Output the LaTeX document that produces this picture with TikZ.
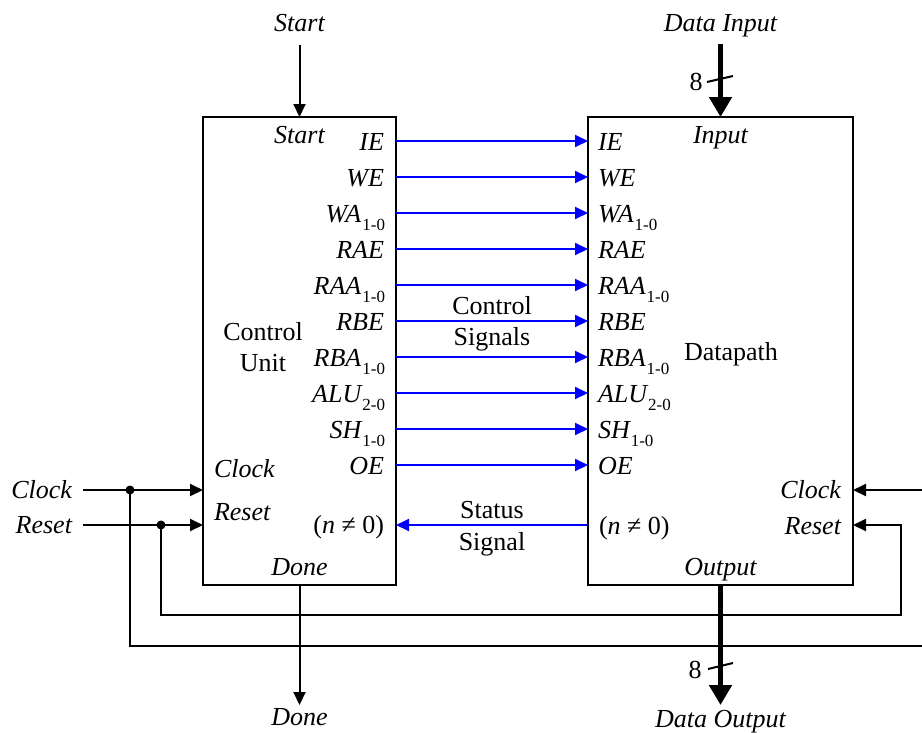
\documentclass[tikz,border=0pt]{standalone}
\usepackage{fontspec}
\setmainfont{Liberation Serif}
\usetikzlibrary{arrows.meta}
\newcommand{\sgl}[2]{\textit{#1}\kern1pt\raisebox{-8.5pt}{\fontsize{17}{17}\selectfont\upshape #2}}
\begin{document}
\begin{tikzpicture}[x=1pt,y=-1pt,
  every node/.style={font=\fontsize{26}{30}\selectfont, inner sep=0pt, outer sep=0pt},
  it/.style={font=\fontsize{26}{30}\selectfont\itshape},
  box/.style={draw, line width=2pt, anchor=north west, inner sep=0pt, outer sep=0pt},
  wire/.style={line width=2pt},
  arr/.style={wire, -{Triangle[length=13pt,width=12pt]}},
  sig/.style={line width=2pt, blue, -{Triangle[length=13pt,width=12pt]}},
  bus/.style={line width=5.5pt, -{Triangle[length=20pt,width=22pt]}},
  dot/.style={circle, fill, minimum size=9pt, inner sep=0pt},
]
\useasboundingbox (0,0) rectangle (922,732);
\clip (0,0) rectangle (922,732);

% boxes
\node[box, minimum width=193pt, minimum height=468pt] (cu) at (203,117) {};
\node[box, minimum width=265pt, minimum height=468pt] (dp) at (588,117) {};

% titles in boxes
\node[anchor=base] (cu1) at (263,340) {Control};
\node[anchor=base] (cu2) at (263,371) {Unit};
\node[anchor=base west] (dpt) at (684,360) {Datapath};

% top
\node[it, anchor=base] (tstart) at (299.5,31) {Start};
\coordinate (startin) at (299.5,45);
\draw[arr] (startin) -- (cu.north);
\node[it, anchor=base] (istart) at (299.5,143) {Start};

\node[it, anchor=base] (tdin) at (720.5,31) {Data Input};
\coordinate (dinin) at (720.5,44);
\draw[bus] (dinin) -- (dp.north);
\draw[wire] (707,82) -- (733,76);
\node[anchor=base] (n8a) at (696,90) {8};
\node[it, anchor=base] (iinput) at (720.5,143) {Input};

% control signals
\foreach \y/\l/\s [count=\i] in {141/IE/, 177/WE/, 213/WA/1-0, 249/RAE/, 285/RAA/1-0, 321/RBE/, 357/RBA/1-0, 393/ALU/2-0, 429/SH/1-0, 465/OE/}{
  \coordinate (cs\i) at (cu.east |- 0,\y);
  \coordinate (ds\i) at (dp.west |- 0,\y);
  \draw[sig] (cs\i) -- (ds\i);
  \node[it, anchor=base east] (cl\i) at (385,\y+9) {\sgl{\l}{\s}};
  \node[it, anchor=base west] (dl\i) at (598,\y+9) {\sgl{\l}{\s}};
}
\node[anchor=base] (cs1t) at (492,314) {Control};
\node[anchor=base] (cs2t) at (492,345) {Signals};

% status
\coordinate (ss) at (dp.west |- 0,525);
\coordinate (se) at (cu.east |- 0,525);
\draw[sig] (ss) -- (se);
\node[anchor=base] (st1) at (492,518) {Status};
\node[anchor=base] (st2) at (492,550) {Signal};
\node[anchor=base east] (cneq) at (384,533) {(\textit{n} ≠ 0)};
\node[anchor=base west] (dneq) at (599,534) {(\textit{n} ≠ 0)};

% clock / reset left
\node[it, anchor=base east] (lclk) at (72,498) {Clock};
\node[it, anchor=base east] (lrst) at (72,533) {Reset};
\coordinate (clkin) at (83,490);
\coordinate (rstin) at (83,525);
\draw[arr] (clkin) -- (clkin -| cu.west);
\draw[arr] (rstin) -- (rstin -| cu.west);
\node[dot] (dotc) at (130,490) {};
\node[dot] (dotr) at (161,525) {};
\node[it, anchor=base west] (cclk) at (214,477) {Clock};
\node[it, anchor=base west] (crst) at (214,520) {Reset};

% feedback to datapath
\draw[arr] (dotc.center) |- (940,646) |- (dp.east |- 0,490);
\draw[arr] (dotr.center) |- (901,615) |- (dp.east |- 0,525);
\node[it, anchor=base east] (dclk) at (841,498) {Clock};
\node[it, anchor=base east] (drst) at (841,534) {Reset};

% done
\node[it, anchor=base] (idone) at (299.5,575) {Done};
\coordinate (doneout) at (299.5,705);
\draw[arr] (cu.south) -- (doneout);
\node[it, anchor=base] (tdone) at (299.5,725) {Done};

% output
\node[it, anchor=base] (ioutput) at (720.5,575) {Output};
\coordinate (dout) at (720.5,705);
\draw[bus] (dp.south) -- (dout);
\draw[wire] (708,669) -- (733,663);
\node[anchor=base] (n8b) at (695,678) {8};
\node[it, anchor=base] (tdout) at (720.5,727) {Data Output};
\end{tikzpicture}
\end{document}
